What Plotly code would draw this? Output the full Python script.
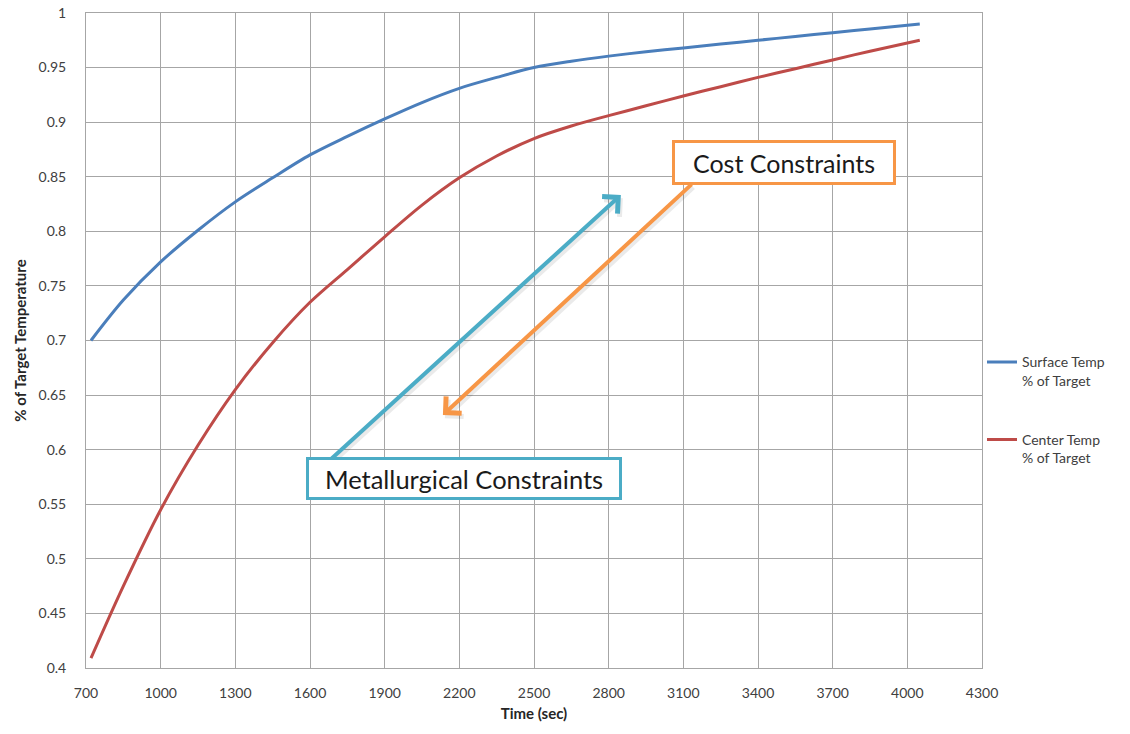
import plotly.graph_objects as go

# Heating time (s) and temperature as a fraction of the target
time_s = [720, 850, 1000, 1150, 1300, 1450, 1600, 1750, 1900, 2050, 2200,
          2350, 2500, 2650, 2800, 2950, 3100, 3250, 3400, 3550, 3700, 3850, 4050]
surface_pct = [0.700, 0.737, 0.772, 0.801, 0.827, 0.849, 0.870, 0.887, 0.903, 0.918, 0.931,
               0.941, 0.950, 0.9558, 0.9605, 0.9645, 0.968, 0.9715, 0.975, 0.9785, 0.982,
               0.9853, 0.990]
center_pct = [0.409, 0.475, 0.545, 0.604, 0.655, 0.698, 0.735, 0.765, 0.795, 0.824, 0.849,
              0.869, 0.885, 0.8965, 0.906, 0.915, 0.924, 0.9325, 0.941, 0.949, 0.957,
              0.965, 0.975]

x_ticks = [700, 1000, 1300, 1600, 1900, 2200, 2500, 2800, 3100, 3400, 3700, 4000, 4300]
y_ticks = [0.4, 0.45, 0.5, 0.55, 0.6, 0.65, 0.7, 0.75, 0.8, 0.85, 0.9, 0.95, 1.0]
y_tick_text = ["0.4", "0.45", "0.5", "0.55", "0.6", "0.65", "0.7", "0.75", "0.8",
               "0.85", "0.9", "0.95", "1"]

FONT = "Lato, 'Open Sans', sans-serif"
GRID = "#a6a6a6"
TEAL = "#4bacc6"
ORANGE = "#f79646"

fig = go.Figure()
fig.add_trace(go.Scatter(
    x=time_s, y=surface_pct, mode="lines", name="Surface Temp<br>% of Target",
    line=dict(color="#4a7ebb", width=3, shape="spline", smoothing=0.9),
    legendgroup="a"))
fig.add_trace(go.Scatter(
    x=time_s, y=center_pct, mode="lines", name="Center Temp<br>% of Target",
    line=dict(color="#be4b48", width=3, shape="spline", smoothing=0.9),
    legendgroup="b"))

# Opposing constraint arrows (data coordinates)
arrows = [
    dict(tail=(1680, 0.5905), head=(2849, 0.8333), color=TEAL),
    dict(tail=(3139, 0.8443), head=(2134, 0.6318), color=ORANGE),
]
for a in arrows:
    # soft drop shadow
    fig.add_annotation(x=a["head"][0] + 8, y=a["head"][1] - 0.003,
                       ax=a["tail"][0] + 8, ay=a["tail"][1] - 0.003,
                       xref="x", yref="y", axref="x", ayref="y", text="",
                       showarrow=True, arrowhead=4, arrowsize=1.1, arrowwidth=4,
                       arrowcolor="rgba(0,0,0,0.08)")
    fig.add_annotation(x=a["head"][0], y=a["head"][1], ax=a["tail"][0], ay=a["tail"][1],
                       xref="x", yref="y", axref="x", ayref="y", text="",
                       showarrow=True, arrowhead=4, arrowsize=1.1, arrowwidth=4,
                       arrowcolor=a["color"])

# Labelled boxes
fig.add_annotation(x=3504, y=0.8631, xref="x", yref="y", text="Cost Constraints",
                   showarrow=False, font=dict(family=FONT, size=25, color="#1a1a1a"),
                   bgcolor="white", bordercolor=ORANGE, borderwidth=3, borderpad=0,
                   width=218, height=39)
fig.add_annotation(x=2219, y=0.5736, xref="x", yref="y", text="Metallurgical Constraints",
                   showarrow=False, font=dict(family=FONT, size=25.5, color="#1a1a1a"),
                   bgcolor="white", bordercolor=TEAL, borderwidth=3, borderpad=0,
                   width=310, height=37)

fig.update_layout(
    width=1130, height=734,
    margin=dict(l=86, r=148, t=13, b=66, autoexpand=False),
    paper_bgcolor="white", plot_bgcolor="white",
    font=dict(family=FONT, size=13, color="#404040"),
    showlegend=True,
    legend=dict(x=1.0, xanchor="left", y=0.491, yanchor="top",
                font=dict(family=FONT, size=14, color="#404040"),
                valign="top", tracegroupgap=38, itemwidth=30,
                bgcolor="rgba(0,0,0,0)"),
    xaxis=dict(range=[700, 4300], tickvals=x_ticks, showgrid=True, gridcolor=GRID,
               gridwidth=1, showline=True, linecolor=GRID, linewidth=1, mirror=True,
               zeroline=False, ticks="", ticklabelstandoff=12, automargin=False,
               tickfont=dict(family=FONT, size=14, color="#404040"),
               title=dict(text="<b>Time (sec)</b>", standoff=8,
                          font=dict(family=FONT, size=15, color="#262626"))),
    yaxis=dict(range=[0.4, 1.0], tickvals=y_ticks, ticktext=y_tick_text, showgrid=True,
               gridcolor=GRID, gridwidth=1, showline=True, linecolor=GRID, linewidth=1,
               mirror=True, zeroline=False, ticks="", ticklabelstandoff=16, automargin=False,
               tickfont=dict(family=FONT, size=14, color="#404040"),
               title=dict(text="<b>% of Target Temperature</b>", standoff=8,
                          font=dict(family=FONT, size=15, color="#262626"))),
)

fig.write_html("out.html")
